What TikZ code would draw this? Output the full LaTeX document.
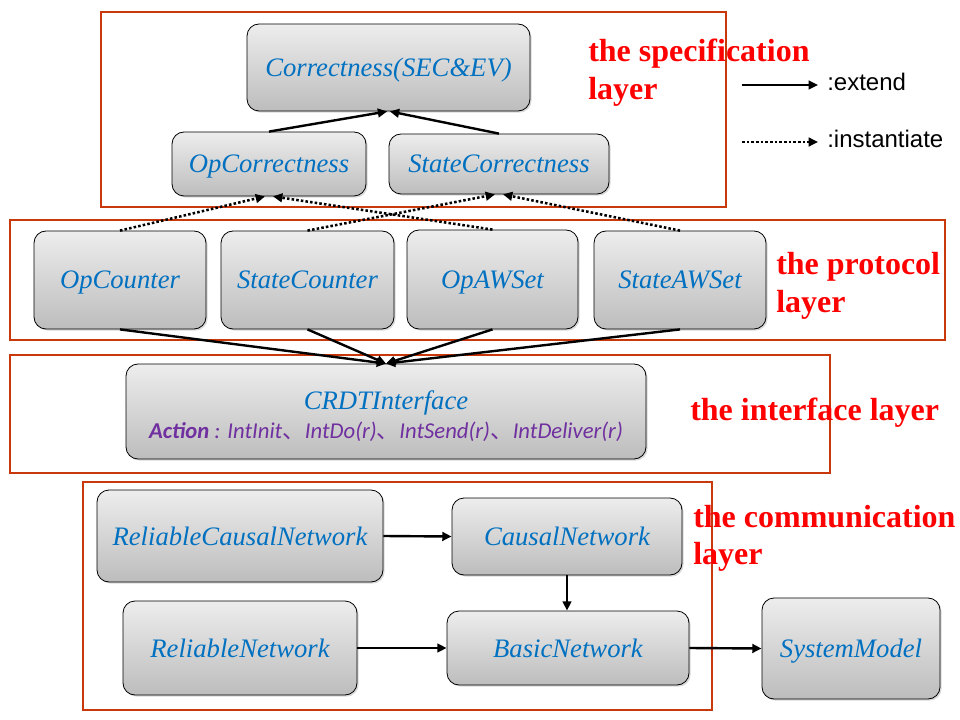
\documentclass[tikz,border=0pt]{standalone}
\usepackage{fontspec}
\setmainfont{Liberation Serif}
\newfontfamily\calfont{Carlito}
\newfontfamily\cjkfont{Noto Sans CJK SC}
\newfontfamily\arialfont{Liberation Sans}
\usetikzlibrary{arrows.meta,shadows}
\definecolor{frameC}{RGB}{200,56,10}
\definecolor{txtBlue}{RGB}{0,112,192}
\definecolor{txtPurple}{RGB}{112,48,160}
\definecolor{lblRed}{RGB}{255,0,0}
\tikzset{
  box/.style={draw=black, line width=0.6pt, rounded corners=9pt,
    top color=black!7, bottom color=black!26,
    drop shadow={shadow xshift=1.2pt, shadow yshift=-1.2pt, opacity=0.3},
    font=\fontsize{20}{24}\selectfont\itshape, text=txtBlue, inner sep=0pt,
    text height=16pt, text depth=2.5pt},
  boxtxt/.style={font=\fontsize{20}{24}\selectfont\itshape, text=txtBlue, inner sep=0pt, anchor=base},
  layerframe/.style={draw=frameC, line width=1.6pt},
  layerlbl/.style={font=\fontsize{24}{28}\selectfont\bfseries, text=lblRed, inner sep=0pt, anchor=base west},
  extendarrow/.style={line width=1.8pt, -{Triangle[length=7pt,width=6.5pt]}},
  instarrow/.style={line width=1.9pt, dash pattern=on 1.9pt off 1.6pt, -{Triangle[length=7pt,width=6.5pt]}},
  legendtxt/.style={font=\arialfont\fontsize{18}{21}\selectfont, anchor=west, inner sep=0pt}
}
\begin{document}
\begin{tikzpicture}[x=0.75pt,y=-0.75pt]
\useasboundingbox (0,0) rectangle (960,720);
% layer frames
\draw[layerframe] (101,12) rectangle (726,207);
\draw[layerframe] (10,220) rectangle (945,340);
\draw[layerframe] (10,355) rectangle (830,473);
\draw[layerframe] (83,482) rectangle (712,710);
% layer labels
\node[layerlbl] (spec1) at (588,62) {the specification};
\node[layerlbl] (spec2) at (588,100) {layer};
\node[layerlbl] (prot1) at (776,275) {the protocol};
\node[layerlbl] (prot2) at (776,312) {layer};
\node[layerlbl] (intf1) at (690,420) {the interface layer};
\node[layerlbl] (comm1) at (693,527) {the communication};
\node[layerlbl] (comm2) at (693,564) {layer};
% specification boxes
\node[box, minimum width=283*0.75pt, minimum height=87*0.75pt] (corr) at (388.5,67.5) {Correctness(SEC\&EV)};
\node[box, minimum width=194*0.75pt, minimum height=64*0.75pt] (opc) at (269,164) {OpCorrectness};
\node[box, minimum width=220*0.75pt, minimum height=60*0.75pt] (stc) at (499,164) {StateCorrectness};
% protocol boxes
\node[box, minimum width=172*0.75pt, minimum height=98*0.75pt] (opcnt) at (120,280) {OpCounter};
\node[box, minimum width=173*0.75pt, minimum height=98*0.75pt] (stcnt) at (307.5,280) {StateCounter};
\node[box, minimum width=171*0.75pt, minimum height=99*0.75pt] (opaw) at (492.5,279.5) {OpAWSet};
\node[box, minimum width=172*0.75pt, minimum height=98*0.75pt] (staw) at (680,280) {StateAWSet};
% interface
\node[box, minimum width=520*0.75pt, minimum height=95*0.75pt] (crdt) at (386,411.5) {};
\node[boxtxt] (crdtT) at (386,409) {CRDTInterface};
\node[boxtxt, font=\calfont\fontsize{17}{20}\selectfont, text=txtPurple] (crdtA) at (386,438)
  {\textbf{\itshape Action} \textit{: IntInit{\cjkfont 、}IntDo(r){\cjkfont 、}IntSend(r){\cjkfont 、}IntDeliver(r)}};
% communication
\node[box, minimum width=286*0.75pt, minimum height=92*0.75pt] (rcn) at (240,536) {ReliableCausalNetwork};
\node[box, minimum width=230*0.75pt, minimum height=77*0.75pt] (cn) at (567,536.5) {CausalNetwork};
\node[box, minimum width=234*0.75pt, minimum height=94*0.75pt] (rn) at (240,648) {ReliableNetwork};
\node[box, minimum width=242*0.75pt, minimum height=74*0.75pt] (bn) at (568,648) {BasicNetwork};
\node[box, minimum width=178*0.75pt, minimum height=101*0.75pt] (sm) at (851,648.5) {SystemModel};
% legend
\coordinate (l1a) at (742,85);
\coordinate (l1b) at (818,85);
\coordinate (l2a) at (742,142);
\coordinate (l2b) at (818,142);
\draw[extendarrow, line width=1.6pt] (l1a) -- (l1b);
\draw[instarrow, line width=1.7pt] (l2a) -- (l2b);
\node[legendtxt] (lg1) at (827,82) {:extend};
\node[legendtxt] (lg2) at (827,139) {:instantiate};
% spec arrows
\draw[extendarrow] (opc.north) -- ([xshift=-1pt]corr.south);
\draw[extendarrow] (stc.north) -- ([xshift=1pt]corr.south);
% instantiate arrows
\draw[instarrow] (opcnt.north) -- ([xshift=-3pt]opc.south);
\draw[instarrow] (opaw.north) -- ([xshift=3pt]opc.south);
\draw[instarrow] (stcnt.north) -- ([xshift=-3pt]stc.south);
\draw[instarrow] (staw.north) -- ([xshift=3pt]stc.south);
% protocol to interface
\draw[extendarrow] (opcnt.south) -- (crdt.north);
\draw[extendarrow] (stcnt.south) -- (crdt.north);
\draw[extendarrow] (opaw.south) -- (crdt.north);
\draw[extendarrow] (staw.south) -- (crdt.north);
% communication arrows
\draw[extendarrow] (rcn.east) -- (cn.west);
\draw[extendarrow] (cn.south) -- (bn.north -| cn.south);
\draw[extendarrow] (rn.east) -- (bn.west);
\draw[extendarrow] (bn.east) -- (sm.west);
\end{tikzpicture}
\end{document}
